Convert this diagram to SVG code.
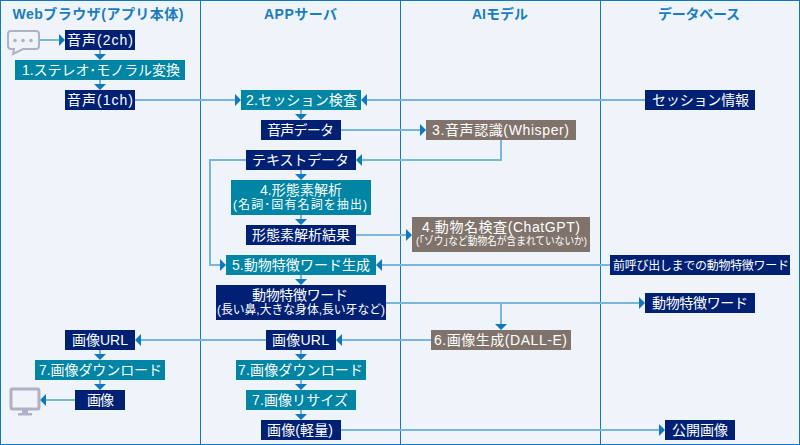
<svg xmlns="http://www.w3.org/2000/svg" width="800" height="445" viewBox="0 0 800 445">
<style>
text{font-family:"Liberation Sans","Noto Sans CJK JP",sans-serif;fill:#fff;font-size:14px;text-anchor:middle}
.h{fill:#1a7dc0;font-size:14px;font-weight:700}
.s{font-size:12px}
.xs{font-size:11px}
.n{fill:#002073}.p{fill:#0085a5}.a{fill:#80736c}
.c path{fill:none;stroke:#7ab5dc;stroke-width:2}
.c use{fill:#0f78bf}
.i{fill:none;stroke:#aeb2c2;stroke-width:2}
</style>
<defs>
<path id="r" d="M0-6L6 0L0 6Z"/>
<path id="l" d="M0-6L-6 0L0 6Z"/>
<path id="d" d="M-6 0H6L0 6Z"/>
</defs>
<rect width="800" height="445" fill="#eff4fa"/>
<g id="lanes" fill="none" stroke="#0f78bf" stroke-width="1">
<rect x=".5" y=".5" width="799" height="444"/>
<path d="M200.5 0V445M400.5 0V445M600.5 0V445"/>
</g>
<g id="headers">
<text class="h" x="98" y="19" textLength="171">Webブラウザ(アプリ本体)</text>
<text class="h" x="300.500" y="19" textLength="73">APPサーバ</text>
<text class="h" x="500" y="19" textLength="56">AIモデル</text>
<text class="h" x="699" y="19" textLength="82">データベース</text>
</g>
<g id="connectors" class="c">
<path d="M40 40H60"/><use href="#r" x="59" y="40"/>
<path d="M100 50V55"/><use href="#d" x="100" y="54"/>
<path d="M100 80V85"/><use href="#d" x="100" y="84"/>
<path d="M135 100H236"/><use href="#r" x="235" y="100"/>
<path d="M645 100H367"/><use href="#l" x="367" y="100"/>
<path d="M301 110V115"/><use href="#d" x="301" y="114"/>
<path d="M341 130H421"/><use href="#r" x="420" y="130"/>
<path d="M501 140V160H362"/><use href="#l" x="362" y="160"/>
<path d="M301 170V175"/><use href="#d" x="301" y="174"/>
<path d="M301 215V220"/><use href="#d" x="301" y="219"/>
<path d="M246 160H210V265H221"/><use href="#r" x="220" y="265"/>
<path d="M356 235H407"/><use href="#r" x="406" y="235"/>
<path d="M610 265H382"/><use href="#l" x="382" y="265"/>
<path d="M301 275V280"/><use href="#d" x="301" y="279"/>
<path d="M386 303H640"/><use href="#r" x="639" y="303"/>
<path d="M501 303V325"/><use href="#d" x="501" y="324"/>
<path d="M431 340H342"/><use href="#l" x="342" y="340"/>
<path d="M266 340H141"/><use href="#l" x="141" y="340"/>
<path d="M301 350V355"/><use href="#d" x="301" y="354"/>
<path d="M301 380V385"/><use href="#d" x="301" y="384"/>
<path d="M301 410V415"/><use href="#d" x="301" y="414"/>
<path d="M100 350V355"/><use href="#d" x="100" y="354"/>
<path d="M100 380V385"/><use href="#d" x="100" y="384"/>
<path d="M75 400H46"/><use href="#l" x="46" y="400"/>
<path d="M341 430H660"/><use href="#r" x="659" y="430"/>
</g>
<g id="icon-chat">
<path class="i" d="M11 31H36Q39 31 39 34V46Q39 49 36 49H23L13 54L14 49H11Q8 49 8 46V34Q8 31 11 31Z" stroke-width="2.400"/>
<circle cx="15" cy="40.500" r="1.800" fill="#aeb2c2"/><circle cx="23" cy="40.500" r="1.800" fill="#aeb2c2"/><circle cx="31" cy="40.500" r="1.800" fill="#aeb2c2"/>
</g>
<g id="icon-monitor">
<rect x="11" y="389" width="28" height="20" rx="1.500" fill="none" stroke="#aeb2c2" stroke-width="3"/>
<path d="M10 408H40V409Q40 410 38 410H12Q10 410 10 409Z" fill="#aeb2c2"/>
<rect x="22" y="410" width="6" height="3" fill="#aeb2c2"/>
<rect x="18" y="413" width="14" height="2.500" fill="#aeb2c2"/>
</g>
<g id="n1"><rect class="n" x="65" y="30" width="70" height="20"/><text x="100" y="45" textLength="66">音声(2ch)</text></g>
<g id="n2"><rect class="p" x="15" y="60" width="170" height="20"/><text x="101" y="75" textLength="158">1.ステレオ･モノラル変換</text></g>
<g id="n3"><rect class="n" x="65" y="90" width="70" height="20"/><text x="100" y="105" textLength="66">音声(1ch)</text></g>
<g id="n4"><rect class="p" x="241" y="90" width="120" height="20"/><text x="301.500" y="105" textLength="111">2.セッション検査</text></g>
<g id="n5"><rect class="n" x="261" y="120" width="80" height="20"/><text x="300.500" y="135" textLength="67">音声データ</text></g>
<g id="n6"><rect class="n" x="246" y="150" width="110" height="20"/><text x="300.500" y="165" textLength="97">テキストデータ</text></g>
<g id="n7"><rect class="p" x="231" y="180" width="140" height="35"/><text x="301" y="194.500" textLength="82">4.形態素解析</text><text class="s" x="300" y="208.500" textLength="134">(名詞･固有名詞を抽出)</text></g>
<g id="n8"><rect class="n" x="246" y="225" width="110" height="20"/><text x="301" y="240" textLength="98">形態素解析結果</text></g>
<g id="n9"><rect class="p" x="226" y="255" width="150" height="20"/><text x="301" y="270" textLength="138">5.動物特徴ワード生成</text></g>
<g id="n10"><rect class="n" x="216" y="285" width="170" height="35"/><text x="300" y="299.500" textLength="96">動物特徴ワード</text><text class="s" x="301" y="313.500" textLength="168" lengthAdjust="spacingAndGlyphs">(長い鼻,大きな身体,長い牙など)</text></g>
<g id="n11"><rect class="n" x="266" y="330" width="70" height="20"/><text x="300.500" y="345" textLength="57">画像URL</text></g>
<g id="n12"><rect class="p" x="236" y="360" width="130" height="20"/><text x="300.500" y="375" textLength="125">7.画像ダウンロード</text></g>
<g id="n13"><rect class="p" x="246" y="390" width="110" height="20"/><text x="300" y="405" textLength="96">7.画像リサイズ</text></g>
<g id="n14"><rect class="n" x="261" y="420" width="80" height="20"/><text x="300" y="435" textLength="66">画像(軽量)</text></g>
<g id="n15"><rect class="n" x="65" y="330" width="70" height="20"/><text x="100" y="345" textLength="56">画像URL</text></g>
<g id="n16"><rect class="p" x="35" y="360" width="130" height="20"/><text x="100.500" y="375" textLength="123">7.画像ダウンロード</text></g>
<g id="n17"><rect class="n" x="75" y="390" width="50" height="20"/><text x="100.500" y="405" textLength="27">画像</text></g>
<g id="n18"><rect class="a" x="426" y="120" width="150" height="20"/><text x="500.500" y="135" textLength="137">3.音声認識(Whisper)</text></g>
<g id="n19"><rect class="a" x="412" y="217" width="178" height="35"/><text x="501" y="231.500" textLength="158">4.動物名検査(ChatGPT)</text><text class="xs" x="501.500" y="245" textLength="171" lengthAdjust="spacingAndGlyphs">(｢ゾウ｣など動物名が含まれていないか)</text></g>
<g id="n20"><rect class="a" x="431" y="330" width="140" height="20"/><text x="500.500" y="345" textLength="133">6.画像生成(DALL-E)</text></g>
<g id="n21"><rect class="n" x="645" y="90" width="110" height="20"/><text x="700.500" y="105" textLength="97">セッション情報</text></g>
<g id="n22"><rect class="n" x="610" y="255" width="180" height="20"/><text class="s" x="701" y="270" textLength="176">前呼び出しまでの動物特徴ワード</text></g>
<g id="n23"><rect class="n" x="645" y="293" width="110" height="20"/><text x="700" y="308" textLength="96">動物特徴ワード</text></g>
<g id="n24"><rect class="n" x="665" y="420" width="70" height="20"/><text x="700" y="435" textLength="56">公開画像</text></g>
</svg>
